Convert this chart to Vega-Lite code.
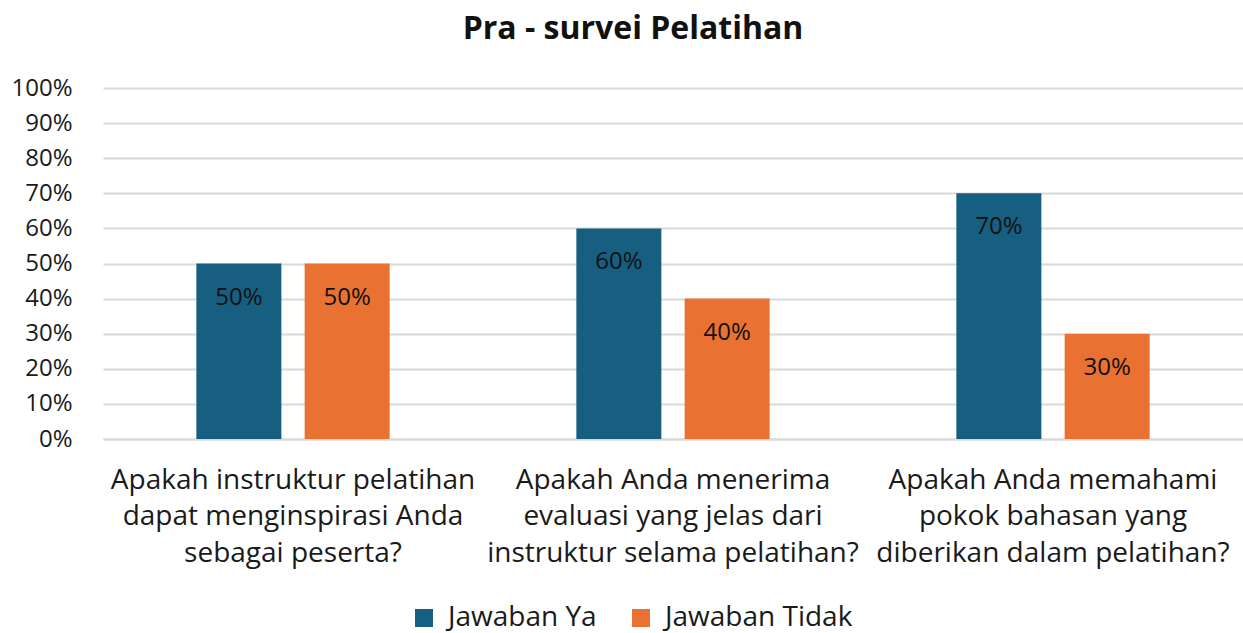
{
  "$schema": "https://vega.github.io/schema/vega-lite/v6.json",
  "autosize": {"type": "none"},
  "width": 1140,
  "height": 351,
  "padding": {"left": 103, "top": 88, "right": 0, "bottom": 194},
  "background": "white",
  "title": {
    "text": "Pra - survei Pelatihan",
    "font": "Open Sans",
    "fontSize": 32,
    "fontWeight": "bold",
    "color": "#111111",
    "anchor": "middle",
    "dx": -40,
    "offset": 30
  },
  "data": {
    "values": [
      {"pertanyaan": "Apakah instruktur pelatihan|dapat menginspirasi Anda|sebagai peserta?", "jawaban": "Jawaban Ya", "nilai": 0.5},
      {"pertanyaan": "Apakah instruktur pelatihan|dapat menginspirasi Anda|sebagai peserta?", "jawaban": "Jawaban Tidak", "nilai": 0.5},
      {"pertanyaan": "Apakah Anda menerima|evaluasi yang jelas dari|instruktur selama pelatihan?", "jawaban": "Jawaban Ya", "nilai": 0.6},
      {"pertanyaan": "Apakah Anda menerima|evaluasi yang jelas dari|instruktur selama pelatihan?", "jawaban": "Jawaban Tidak", "nilai": 0.4},
      {"pertanyaan": "Apakah Anda memahami|pokok bahasan yang|diberikan dalam pelatihan?", "jawaban": "Jawaban Ya", "nilai": 0.7},
      {"pertanyaan": "Apakah Anda memahami|pokok bahasan yang|diberikan dalam pelatihan?", "jawaban": "Jawaban Tidak", "nilai": 0.3}
    ]
  },
  "encoding": {
    "x": {
      "field": "pertanyaan",
      "type": "nominal",
      "sort": null,
      "title": null,
      "scale": {"paddingInner": 0, "paddingOuter": 0},
      "axis": {
        "labelExpr": "split(datum.label, '|')",
        "labelAngle": 0,
        "labelFont": "Open Sans",
        "labelFontSize": 28,
        "labelLineHeight": 36.5,
        "labelColor": "#1a1a1a",
        "labelPadding": 27,
        "labelLimit": 400,
        "ticks": false,
        "tickSize": 0,
        "domain": true,
        "domainColor": "#d9d9d9",
        "domainWidth": 2,
        "grid": false
      }
    },
    "xOffset": {
      "field": "jawaban",
      "type": "nominal",
      "sort": ["Jawaban Ya", "Jawaban Tidak"],
      "scale": {"paddingInner": 0.215, "paddingOuter": 0.862}
    },
    "y": {
      "field": "nilai",
      "type": "quantitative",
      "title": null,
      "scale": {"domain": [0, 1], "nice": false},
      "axis": {
        "format": ".0%",
        "values": [0, 0.1, 0.2, 0.3, 0.4, 0.5, 0.6, 0.7, 0.8, 0.9, 1],
        "labelFont": "Open Sans",
        "labelFontSize": 24,
        "labelColor": "#1a1a1a",
        "labelPadding": 31,
        "ticks": false,
        "tickSize": 0,
        "domain": false,
        "grid": true,
        "gridColor": "#d9d9d9",
        "gridWidth": 2
      }
    }
  },
  "layer": [
    {
      "mark": {"type": "bar"},
      "encoding": {
        "color": {
          "field": "jawaban",
          "type": "nominal",
          "sort": ["Jawaban Ya", "Jawaban Tidak"],
          "scale": {"domain": ["Jawaban Ya", "Jawaban Tidak"], "range": ["#175f80", "#e97132"]},
          "legend": {
            "title": null,
            "orient": "none",
            "legendX": 307,
            "legendY": 516,
            "direction": "horizontal",
            "symbolType": "square",
            "symbolSize": 324,
            "symbolStrokeWidth": 0,
            "labelFont": "Open Sans",
            "labelFontSize": 28,
            "labelColor": "#1a1a1a",
            "labelOffset": 10,
            "columnPadding": 30,
            "labelLimit": 400
          }
        }
      }
    },
    {
      "mark": {"type": "text", "baseline": "middle", "dy": 34, "font": "Open Sans", "fontSize": 24, "color": "#111111"},
      "encoding": {
        "text": {"field": "nilai", "type": "quantitative", "format": ".0%"}
      }
    }
  ],
  "config": {
    "view": {"stroke": null}
  }
}
